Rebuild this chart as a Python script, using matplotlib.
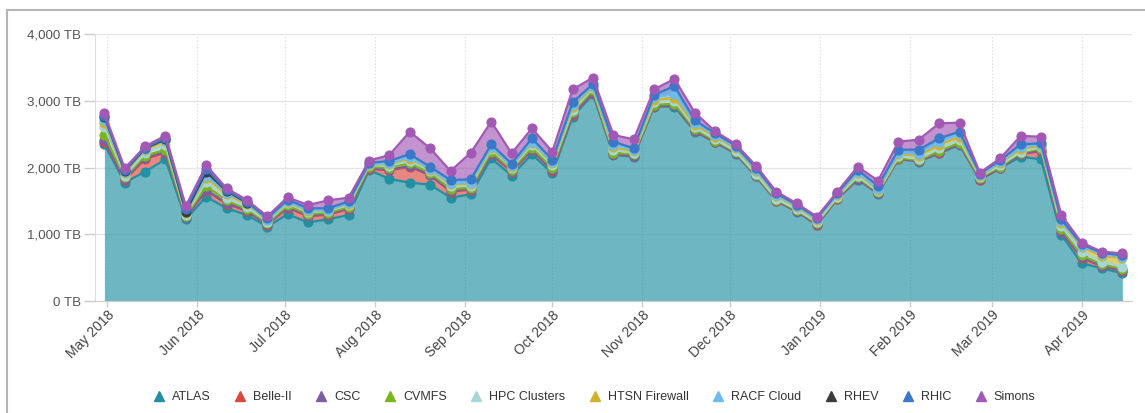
import matplotlib
matplotlib.use("Agg")
import matplotlib.pyplot as plt
import matplotlib.dates as mdates
from matplotlib.lines import Line2D
import numpy as np
import datetime as dt

plt.rcParams['font.family'] = ['Liberation Sans', 'DejaVu Sans']

start = dt.date(2018, 4, 30)
n_points = 51
dates = [start + dt.timedelta(days=7 * i) for i in range(n_points)]

series_names = ["ATLAS", "Belle-II", "CSC", "CVMFS", "HPC Clusters",
                "HTSN Firewall", "RACF Cloud", "RHEV", "RHIC", "Simons"]

NA = float('nan')

atlas = [2350, 1775, 1940, 2125, 1225, 1565, 1390, 1290, 1115, 1300,
         1180, 1225, 1290, 1965, 1830, 1775, 1745, 1550, 1600, 2140,
         1880, 2200, 1915, 2765, 3100, 2190, 2165, 2915, 2915, 2540,
         2380, 2210, 1870, 1500, 1340, 1140, 1530, 1820, 1610, 2130,
         2090, 2215, 2340, 1815, 1990, 2165, 2125, 990, 565, 490, 415]
belle = [40, 40, 190, 100, 30, 90, 70, 60, 30, 100,
         90, 70, 90, 20, 130, 240, 140, 90, 70, 60,
         60, 60, 40, 30, 20, 10, 10, 10, 20, 10,
         5, 5, 5, 5, 5, 5, 5, 5, 5, 5,
         5, 10, 10, 5, 5, 40, 120, 40, 80, 30, 40]
csc = [20, 10, 20, 15, 5, 10, 10, 10, 5, 10,
       10, 10, 10, 5, 10, 10, 10, 10, 10, 10,
       10, 10, 10, 10, 10, 5, 5, 5, 5, 5,
       5, 5, 5, 5, 5, 5, 5, 5, 5, 5,
       5, 5, 5, 5, 5, 5, 10, 10, 10, 10, 10]
cvmfs = [80, 30, 30, 30, 15, 60, 40, 20, 20, 25,
         25, 20, 20, 20, 30, 40, 30, 30, 20, 30,
         20, 30, 30, 30, 30, 20, 20, 10, 20, 20,
         15, 15, 10, 10, 10, 15, 10, 25, 10, 10,
         10, 20, 20, 20, 15, 15, 30, 45, 30, 20, 20]
hpc = [125, 25, 40, 70, 20, 65, 30, 30, 20, 30,
       30, 25, 30, 25, 30, 40, 30, 40, 30, 40,
       30, 40, 40, 30, 30, 40, 25, 40, 45, 30,
       20, 15, 15, 15, 15, 15, 15, 20, 15, 20,
       20, 40, 40, 20, 20, 15, 20, 40, 55, 30, 30]
htsn = [60, 40, 50, 60, 20, 60, 60, 45, 20, 20,
        15, 10, 20, 10, 20, 30, 15, 30, 25, 20,
        15, 30, 30, 40, 20, 40, 20, 40, 40, 40,
        40, 40, 45, 40, 35, 35, 25, 40, 20, 30,
        50, 50, 50, 15, 30, 40, 20, 50, 70, 100, 130]
racf = [40, 20, 15, 20, 15, 30, 20, 15, 10, 10,
        10, 5, 10, 5, 15, 20, 10, 20, 20, 15,
        10, 20, 20, 30, 20, 40, 20, 40, 55, 30,
        20, 15, 20, 15, 15, 10, 10, 20, 15, 20,
        30, 40, 40, 10, 15, 30, 20, 20, 20, 20, 20]
rhev = [50, 10, 5, 5, 10, 60, 30, 5] + [NA] * 43
rhic = [10, 10, 10, 15, 35, 40, 10, 10, 20, 25,
        30, 25, 25, 20, 35, 50, 30, 45, 50, 35,
        35, 50, 30, 45, 25, 45, 25, 30, 125, 35,
        30, 25, 25, 25, 20, 20, 20, 30, 45, 50,
        60, 60, 35, 20, 30, 40, 20, 30, 20, 20, 20]
simons = [40, 30, 20, 40, 50, 55, 30, 30, 30, 35,
          50, 120, 55, 35, 90, 335, 280, 135, 400, 340,
          155, 150, 125, 195, 95, 100, 135, 85, 105, 115,
          30, 25, 35, 25, 20, 20, 20, 50, 80, 120,
          150, 225, 135, 15, 30, 125, 100, 65, 25, 20, 30]

series_values = [atlas, belle, csc, cvmfs, hpc, htsn, racf, rhev, rhic, simons]
series_colors = ["#2090a2", "#d9473f", "#7d5ea6", "#7ab51d", "#a3d6d6",
                 "#d1b12a", "#6cbcee", "#3b3b3b", "#3a78c8", "#a259b5"]

month_ticks = [dt.date(2018, m, 1) for m in range(5, 13)] + \
              [dt.date(2019, m, 1) for m in range(1, 5)]
y_ticks = [0, 1000, 2000, 3000, 4000]

W, H = 1145, 413
fig = plt.figure(figsize=(W / 100, H / 100), dpi=100)
ax = fig.add_axes([95 / W, 1 - 301 / H, (1131.7 - 95) / W, (301 - 34.3) / H])

x = mdates.date2num(dates)
base = np.zeros(n_points)
for name, vals, col in zip(series_names, series_values, series_colors):
    v = np.array(vals, dtype=float)
    top = base + np.nan_to_num(v)
    shown = np.where(np.isnan(v), np.nan, top)
    ax.fill_between(x, base, top, color=col, alpha=0.65, linewidth=0, zorder=2)
    ax.plot(x, shown, color=col, lw=1.6, marker='o', ms=6.3, zorder=3)
    base = top

may1 = mdates.date2num(dt.date(2018, 5, 1))
ax.set_xlim(may1 - 4.23, may1 + 352.2)
ax.set_ylim(0, 4000)

ax.set_yticks(y_ticks)
ax.set_yticklabels([f"{v:,} TB" for v in y_ticks])
ax.set_xticks(mdates.date2num(month_ticks))
ax.set_xticklabels([d.strftime("%b %Y") for d in month_ticks],
                   rotation=45, ha='right', rotation_mode='anchor')

ax.tick_params(axis='y', length=8, width=1, color='#cccccc', labelsize=9.6,
               labelcolor='#555555', pad=2)
ax.tick_params(axis='x', length=4, width=1, color='#cccccc', labelsize=10,
               labelcolor='#444444', pad=1)

ax.grid(axis='y', color='#e6e6e6', lw=1, zorder=0)
ax.grid(axis='x', color='#d5d5d5', lw=0.8, ls=(0, (1, 2)), zorder=0)
ax.set_axisbelow(True)
for s in ['top', 'right']:
    ax.spines[s].set_visible(False)
ax.spines['left'].set_color('#dddddd')
ax.spines['bottom'].set_color('#cccccc')

handles = [Line2D([], [], marker='^', ls='none', color=c, markersize=7)
           for c in series_colors]
fig.legend(handles, series_names, loc='center', bbox_to_anchor=(0.516, 1 - 397 / H),
           ncol=10, frameon=False, fontsize=9, handletextpad=0.05,
           columnspacing=1.35, labelcolor='#333333')

# outer frame
fig.add_artist(Line2D([7 / W, 1], [1 - 10 / H, 1 - 10 / H], transform=fig.transFigure,
                      color='#b5b5b5', lw=1.5))
fig.add_artist(Line2D([7 / W, 7 / W], [0, 1 - 10 / H], transform=fig.transFigure,
                      color='#b5b5b5', lw=1.5))

fig.savefig("out.png", dpi=100)
